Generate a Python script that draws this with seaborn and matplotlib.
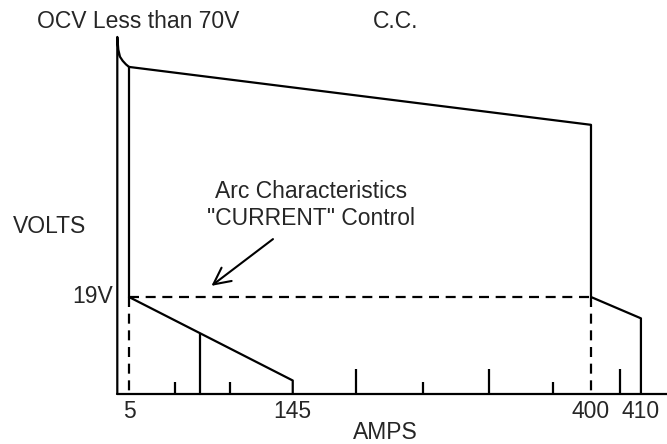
import matplotlib
matplotlib.use("Agg")
import matplotlib.pyplot as plt
import seaborn as sns
import pandas as pd

# ---------------- data (schematic welding characteristic) ----------------
# y-axis + open-circuit-voltage knee
ocv_amps = [-5.0, -5.0, -4.15, -2.7, -0.4, 2.4, 5.0]
ocv_volts = [0.0, 70.2, 67.7, 66.3, 65.5, 64.8, 64.3]
# constant-current envelope
cc_amps = [5, 400, 400]
cc_volts = [64.3, 52.9, 19]
# left vertical of the minimum setting
min_amps = [5, 5]
min_volts = [64.3, 19]
# droop from 19V at minimum setting
droop_amps = [5, 145, 145]
droop_volts = [19, 2.56, 0]
# intermediate line reaching the droop
mid_amps = [65.7, 65.7]
mid_volts = [0, 11.8]
# droop beyond maximum setting (410A drawn off-scale)
max_amps = [400, 442.7, 442.7]
max_volts = [19, 14.8, 0]
# x axis
axis_amps = [-5.0, 470]
axis_volts = [0, 0]
# arc-characteristic (dashed) lines
arc_volts = 19
arc_amps = [5, 400]
# scale marks on the amps axis
tall_ticks = [199.1, 312.8, 424.8]
short_ticks = [44.3, 91.3, 256.3, 367.5]
tall_h = 4.8
short_h = 2.26
# axis labels
tick_pos = [5, 145, 400, 442.7]
tick_labels = ["5", "145", "400", "410"]

# ---------------- figure ----------------
sns.set_style("white")
plt.rcParams["font.family"] = ["Liberation Sans", "DejaVu Sans"]

W, H = 667, 444
fig = plt.figure(figsize=(W / 100, H / 100), dpi=100)
ax = fig.add_axes([0, 0, 1, 1])

# pixel mapping of the original: px = 123.15 + 1.1696*A ; py = 393.5 - 5.079*V
ax.set_xlim((0 - 123.15) / 1.1696, (W - 123.15) / 1.1696)
ax.set_ylim((393.5 - H) / 5.079, 393.5 / 5.079)
ax.axis("off")

LW = 1.6
solid = dict(color="black", linewidth=LW, sort=False, estimator=None, ax=ax)

def seg(xs, ys, **kw):
    d = pd.DataFrame({"x": xs, "y": ys})
    sns.lineplot(data=d, x="x", y="y", **solid, **kw)

seg(axis_amps, axis_volts)
seg(ocv_amps, ocv_volts)
seg(cc_amps, cc_volts)
seg(min_amps, min_volts)
seg(droop_amps, droop_volts)
seg(mid_amps, mid_volts)
seg(max_amps, max_volts)

dash = (0, (4.5, 3))
seg(arc_amps, [arc_volts, arc_volts], linestyle=dash)
seg([arc_amps[0], arc_amps[0]], [arc_volts, 0], linestyle=dash)
seg([arc_amps[1], arc_amps[1]], [arc_volts, 0], linestyle=dash)

ax.vlines(tall_ticks, 0, tall_h, color="black", linewidth=LW)
ax.vlines(short_ticks, 0, short_h, color="black", linewidth=LW)

FS = 16.5
lab_v = (393.5 - 418) / 5.079
for p, t in zip(tick_pos, tick_labels):
    ax.text(p, lab_v, t, ha="center", va="baseline", fontsize=FS)

def ftext(x, y, s, **kw):
    fig.text(x / W, 1 - y / H, s, fontsize=FS, va="baseline", **kw)

ftext(37, 28, "OCV Less than 70V", ha="left")
ftext(373, 28, "C.C.", ha="left")
ftext(13, 233, "VOLTS", ha="left")
ftext(113, 303, "19V", ha="right")
ftext(311, 198, "Arc Characteristics", ha="center")
ftext(311, 225, "\"CURRENT\" Control", ha="center")
ftext(385, 439, "AMPS", ha="center")

ax.annotate("", xy=(75.5, 21.2), xytext=(128.1, 30.4),
            arrowprops=dict(arrowstyle="->", color="black", lw=1.5,
                            mutation_scale=30, shrinkA=0, shrinkB=0))

fig.savefig("out.png", dpi=100)
